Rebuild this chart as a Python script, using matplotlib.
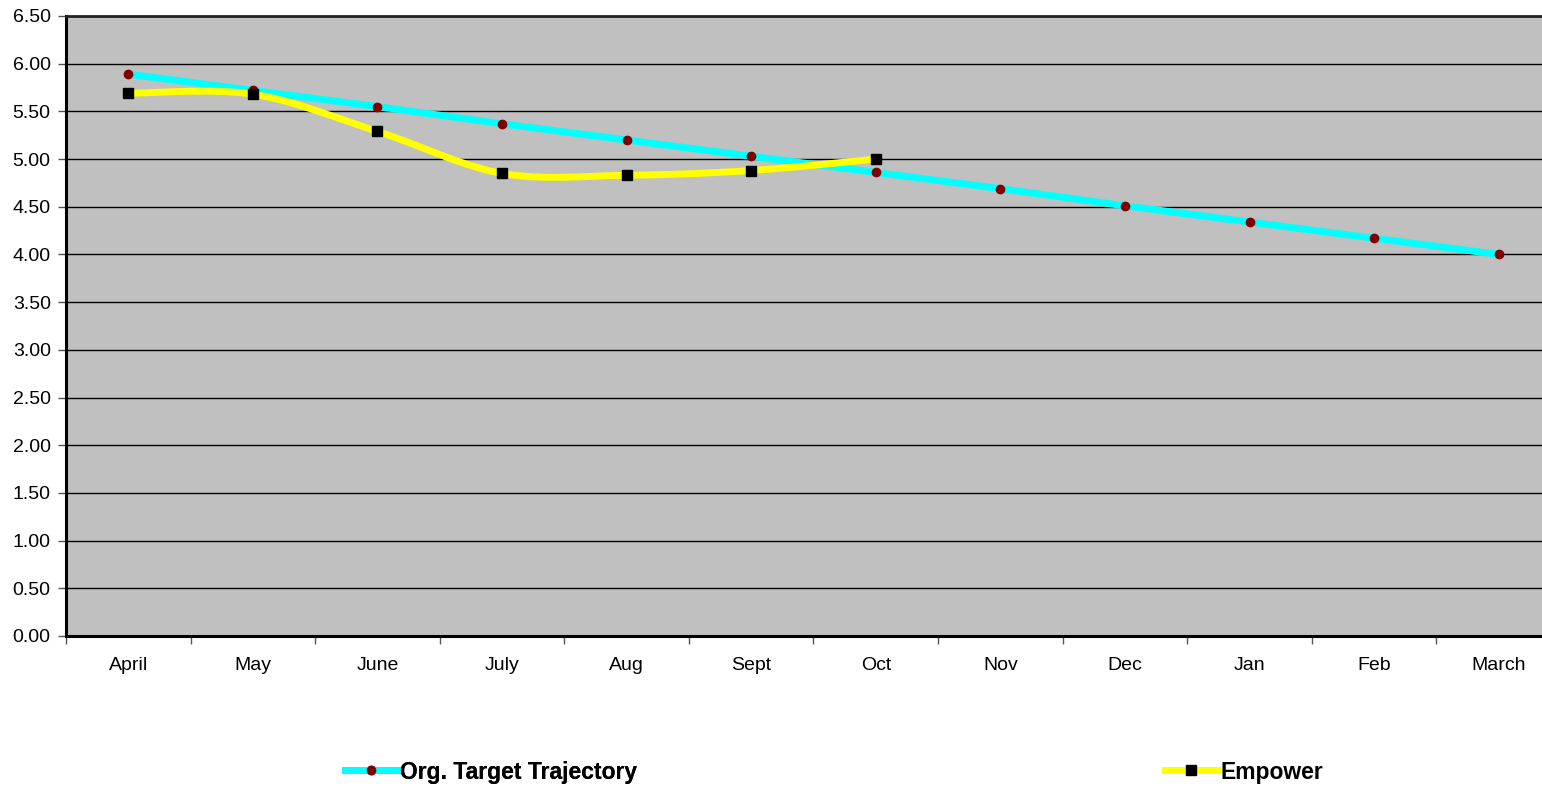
import numpy as np
import matplotlib
matplotlib.use("Agg")
import matplotlib.pyplot as plt
from matplotlib.lines import Line2D

months = ["April", "May", "June", "July", "Aug", "Sept", "Oct", "Nov", "Dec", "Jan", "Feb", "March"]
target = [5.89, 5.72, 5.55, 5.37, 5.20, 5.03, 4.86, 4.69, 4.51, 4.34, 4.17, 4.00]
empower = [5.69, 5.68, 5.29, 4.85, 4.83, 4.88, 5.00]
yticks = [0.0, 0.5, 1.0, 1.5, 2.0, 2.5, 3.0, 3.5, 4.0, 4.5, 5.0, 5.5, 6.0, 6.5]

plt.rcParams['font.family'] = ['Liberation Sans', 'DejaVu Sans']

W, H = 1542, 787
fig = plt.figure(figsize=(W / 100, H / 100), dpi=100)
left_px, right_px, top_px, bot_px = 66, 1561, 16, 636
ax = fig.add_axes([left_px / W, 1 - bot_px / H, (right_px - left_px) / W, (bot_px - top_px) / H])
ax.set_facecolor("#C0C0C0")


def excel_smooth(xs, ys, n=40):
    pts = np.column_stack([xs, ys]).astype(float)
    out = [pts[0]]
    m = len(pts)
    for i in range(m - 1):
        p0 = pts[i - 1] if i > 0 else pts[i]
        p1 = pts[i]
        p2 = pts[i + 1]
        p3 = pts[i + 2] if i + 2 < m else pts[i + 1]
        c1 = p1 + (p2 - p0) / 6.0
        c2 = p2 - (p3 - p1) / 6.0
        t = np.linspace(0, 1, n)[1:, None]
        seg = (1 - t) ** 3 * p1 + 3 * (1 - t) ** 2 * t * c1 + 3 * (1 - t) * t ** 2 * c2 + t ** 3 * p2
        out.extend(seg)
    out = np.array(out)
    return out[:, 0], out[:, 1]


x_t = np.arange(len(target))
x_e = np.arange(len(empower))
LW = 5.0

ax.plot(x_t, target, color="#00FFFF", lw=LW, zorder=3, solid_capstyle="butt")
ax.plot(x_t, target, ls="none", marker="o", ms=6, color="#800000", mec="#800000", zorder=4)

sx, sy = excel_smooth(x_e, empower)
ax.plot(sx, sy, color="#FFFF00", lw=LW, zorder=5, solid_capstyle="butt")
ax.plot(x_e, empower, ls="none", marker="s", ms=7.5, color="black", zorder=6)

ax.set_xlim(-0.5, len(months) - 0.5)
ax.set_ylim(0, 6.5)
ax.set_yticks(yticks)
ax.set_yticklabels([f"{v:.2f}" for v in yticks], fontsize=14)
ax.yaxis.grid(True, color="black", lw=1.0)
ax.set_axisbelow(True)

ax.set_xticks(np.arange(len(months)))
ax.set_xticklabels(months, fontsize=14)
ax.tick_params(axis="x", which="major", length=0, pad=15)
ax.set_xticks(np.arange(len(months) + 1) - 0.5, minor=True)
ax.tick_params(axis="x", which="minor", length=6, width=1, color="#555555")
ax.tick_params(axis="y", length=6, width=1, color="#555555", pad=5)

for s in ["left", "bottom"]:
    ax.spines[s].set_linewidth(2.2)
    ax.spines[s].set_color("black")
ax.spines["top"].set_linewidth(2.0)
ax.spines["top"].set_color("#222222")
ax.spines["right"].set_visible(False)

h1 = Line2D([], [], color="#00FFFF", lw=LW, marker="o", ms=6, mfc="#800000", mec="#800000")
h2 = Line2D([], [], color="#FFFF00", lw=LW, marker="s", ms=7.5, mfc="black", mec="black")
ly = 1 - 772 / H
common = dict(loc="center left", frameon=False, prop={"weight": "bold", "size": 16.5},
              handlelength=2.3, handletextpad=0.12, borderpad=0, borderaxespad=0)
leg1 = fig.legend([h1], ["Org. Target Trajectory"], bbox_to_anchor=(345 / W, ly), **common)
fig.add_artist(leg1)
leg2 = fig.legend([h2], ["Empower"], bbox_to_anchor=(1165 / W, ly), **common)

fig.savefig("out.png", dpi=100, facecolor="white")
